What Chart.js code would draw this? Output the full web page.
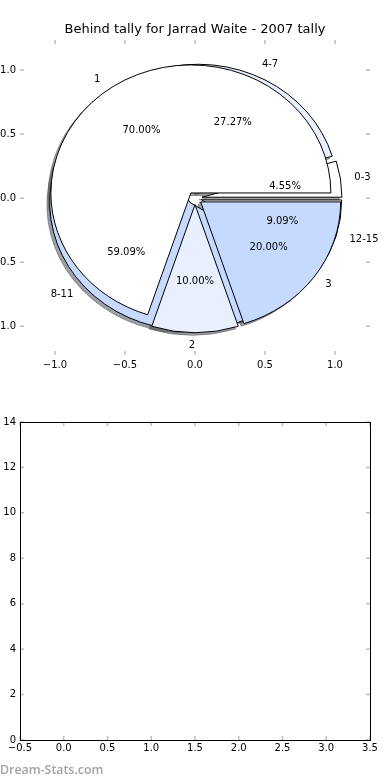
<!DOCTYPE html>
<html>
<head>
<meta charset="utf-8">
<title>Behind tally for Jarrad Waite - 2007 tally</title>
<script src="https://cdn.jsdelivr.net/npm/chart.js@4.4.1/dist/chart.umd.min.js"></script>
<style>
  html, body { margin: 0; padding: 0; background: #fff; }
  body { width: 390px; height: 780px; overflow: hidden; position: relative; }
  #pieChart { position: absolute; left: -10px; top: 0; }
  #emptyChart { position: absolute; left: -10px; top: 400px; }
  #credit { position: absolute; left: 0; top: 761px; font: 600 12.4px "Open Sans", sans-serif; color: #a3a3a3; }
</style>
</head>
<body>
<canvas id="pieChart" width="410" height="385"></canvas>
<canvas id="emptyChart" width="410" height="370"></canvas>
<div id="credit">Dream-Stats.com</div>
<script>
var chartTitle = 'Behind tally for Jarrad Waite - 2007 tally';

// pie 1 : behinds by minute range
var rangeLabels = ['0-3', '4-7', '8-11', '12-15'];
var rangeValues = [1, 6, 13, 2];
var rangeColors = ['#ffffff', '#e8f0ff', '#c6d9ff', '#ffffff'];

// pie 2 : behinds per game
var countLabels = ['1', '2', '3'];
var countValues = [7, 1, 2];
var countColors = ['#ffffff', '#e8f0ff', '#c6d9ff'];

// tick values
var pieTicks = [-1.0, -0.5, 0.0, 0.5, 1.0];
var emptyXTicks = [-0.5, 0, 0.5, 1, 1.5, 2, 2.5, 3, 3.5];
var emptyYTicks = [0, 2, 4, 6, 8, 10, 12, 14];

Chart.defaults.font.family = '"DejaVu Sans", sans-serif';
Chart.defaults.font.size = 10;
Chart.defaults.color = '#000';

var explode = 0.05;
var tickColor = '#bdbdbd';

function fmt1(v) {
  var s = Math.abs(v).toFixed(1);
  return v < 0 ? '\u2212' + s : s;
}

function shadowColor(hex) {
  var r = parseInt(hex.substr(1, 2), 16), g = parseInt(hex.substr(3, 2), 16), b = parseInt(hex.substr(5, 2), 16);
  return 'rgba(' + Math.round(r * 0.3) + ',' + Math.round(g * 0.3) + ',' + Math.round(b * 0.3) + ',0.5)';
}

// petits traits de graduation a l'interieur du cadre
var tickMarks = {
  id: 'tickMarks',
  afterDraw: function(chart) {
    var ctx = chart.ctx, a = chart.chartArea;
    var xs = chart.scales.x, ys = chart.scales.y;
    ctx.save();
    ctx.strokeStyle = tickColor;
    ctx.lineWidth = 1.5;
    ctx.beginPath();
    xs.ticks.forEach(function(t) {
      var px = xs.getPixelForValue(t.value);
      ctx.moveTo(px, a.bottom); ctx.lineTo(px, a.bottom - 4);
      ctx.moveTo(px, a.top); ctx.lineTo(px, a.top + 4);
    });
    ys.ticks.forEach(function(t) {
      var py = ys.getPixelForValue(t.value);
      ctx.moveTo(a.left, py); ctx.lineTo(a.left + 4, py);
      ctx.moveTo(a.right, py); ctx.lineTo(a.right - 4, py);
    });
    ctx.stroke();
    if (chart.options.plugins.tickMarks && chart.options.plugins.tickMarks.frame) {
      ctx.strokeStyle = '#000';
      ctx.lineWidth = 1;
      ctx.strokeRect(Math.round(a.left) + 0.5, Math.round(a.top) + 0.5, Math.round(a.right - a.left), Math.round(a.bottom - a.top));
    }
    ctx.restore();
  }
};

// les deux camemberts superposes, dessines avec les echelles du graphique
var pies = {
  id: 'pies',
  beforeDatasetsDraw: function(chart) {
    var ctx = chart.ctx;
    var xs = chart.scales.x, ys = chart.scales.y;
    var rx = xs.getPixelForValue(1) - xs.getPixelForValue(0);
    var ry = ys.getPixelForValue(0) - ys.getPixelForValue(1);
    var sets = [
      { labels: rangeLabels, values: rangeValues, colors: rangeColors },
      { labels: countLabels, values: countValues, colors: countColors }
    ];
    var wedges = [];
    sets.forEach(function(p) {
      var total = p.values.reduce(function(s, v) { return s + v; }, 0);
      var a = 0;
      p.values.forEach(function(v, i) {
        var a1 = a + v / total * 2 * Math.PI;
        var mid = (a + a1) / 2;
        wedges.push({
          a0: a, a1: a1, mid: mid,
          ox: explode * Math.cos(mid), oy: explode * Math.sin(mid),
          color: p.colors[i], label: p.labels[i],
          pct: (v / total * 100).toFixed(2) + '%'
        });
        a = a1;
      });
    });

    function path(w, dx, dy) {
      var cx = xs.getPixelForValue(w.ox + dx), cy = ys.getPixelForValue(w.oy + dy);
      ctx.beginPath();
      ctx.moveTo(cx, cy);
      ctx.ellipse(cx, cy, rx, ry, 0, -w.a0, -w.a1, true);
      ctx.closePath();
    }

    ctx.save();
    // ombres d'abord
    wedges.forEach(function(w) {
      path(w, -0.02, -0.02);
      ctx.fillStyle = shadowColor(w.color);
      ctx.strokeStyle = shadowColor(w.color);
      ctx.lineWidth = 1;
      ctx.fill();
      ctx.stroke();
    });
    // puis les parts
    wedges.forEach(function(w) {
      path(w, 0, 0);
      ctx.fillStyle = w.color;
      ctx.strokeStyle = '#000';
      ctx.lineWidth = 1;
      ctx.fill();
      ctx.stroke();
    });
    // textes
    ctx.fillStyle = '#000';
    ctx.font = '10px "DejaVu Sans", sans-serif';
    ctx.textBaseline = 'middle';
    wedges.forEach(function(w) {
      var lx = w.ox + 1.1 * Math.cos(w.mid), ly = w.oy + 1.1 * Math.sin(w.mid);
      ctx.textAlign = lx > 0 ? 'left' : 'right';
      ctx.fillText(w.label, xs.getPixelForValue(lx), ys.getPixelForValue(ly));
      var px = w.ox + 0.6 * Math.cos(w.mid), py = w.oy + 0.6 * Math.sin(w.mid);
      ctx.textAlign = 'center';
      ctx.fillText(w.pct, xs.getPixelForValue(px), ys.getPixelForValue(py));
    });
    ctx.restore();
  }
};

new Chart(document.getElementById('pieChart'), {
  type: 'scatter',
  data: { datasets: [{ data: [] }] },
  options: {
    responsive: false,
    animation: false,
    devicePixelRatio: 1,
    layout: { padding: 0 },
    plugins: {
      legend: { display: false },
      tooltip: { enabled: false },
      title: {
        display: true,
        text: chartTitle,
        font: { size: 13, weight: 'normal' },
        color: '#000',
        padding: { top: 22, bottom: 2.4 }
      }
    },
    scales: {
      x: {
        min: -1.25, max: 1.25,
        grid: { display: false, drawTicks: false },
        border: { display: false },
        afterBuildTicks: function(s) { s.ticks = pieTicks.map(function(v) { return { value: v }; }); },
        afterFit: function(s) { s.height = 30; },
        ticks: { padding: 4, maxRotation: 0, autoSkip: false, callback: function(v) { return fmt1(v); } }
      },
      y: {
        min: -1.225, max: 1.235,
        grid: { display: false, drawTicks: false },
        border: { display: false },
        afterBuildTicks: function(s) { s.ticks = pieTicks.map(function(v) { return { value: v }; }); },
        afterFit: function(s) { s.width = 30; },
        ticks: { padding: 4, autoSkip: false, callback: function(v) { return fmt1(v); } }
      },
      // axe vide a droite pour garder le titre centre sur les axes
      y2: {
        position: 'right',
        min: -1.225, max: 1.235,
        grid: { display: false, drawTicks: false },
        border: { display: false },
        ticks: { display: false },
        afterFit: function(s) { s.width = 30; }
      }
    }
  },
  plugins: [pies, tickMarks]
});

new Chart(document.getElementById('emptyChart'), {
  type: 'scatter',
  data: { datasets: [{ data: [] }] },
  options: {
    responsive: false,
    animation: false,
    devicePixelRatio: 1,
    layout: { padding: { top: 22, right: 30, bottom: 0, left: 0 } },
    plugins: {
      legend: { display: false },
      tooltip: { enabled: false },
      tickMarks: { frame: true }
    },
    scales: {
      x: {
        min: -0.5, max: 3.5,
        grid: { display: false, drawTicks: false },
        border: { display: false },
        afterBuildTicks: function(s) { s.ticks = emptyXTicks.map(function(v) { return { value: v }; }); },
        afterFit: function(s) { s.height = 30; },
        ticks: { padding: 2, maxRotation: 0, autoSkip: false, callback: function(v) { return fmt1(v); } }
      },
      y: {
        min: 0, max: 14,
        grid: { display: false, drawTicks: false },
        border: { display: false },
        afterBuildTicks: function(s) { s.ticks = emptyYTicks.map(function(v) { return { value: v }; }); },
        afterFit: function(s) { s.width = 30; },
        ticks: { padding: 4, autoSkip: false, callback: function(v) { return String(v); } }
      }
    }
  },
  plugins: [tickMarks]
});
</script>
</body>
</html>
